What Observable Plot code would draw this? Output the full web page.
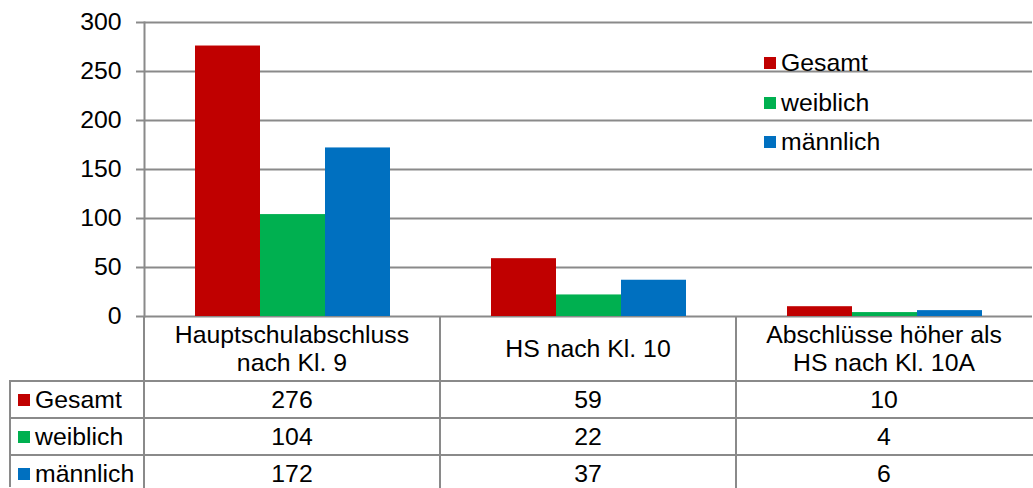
<!DOCTYPE html>
<html><head><meta charset="utf-8">
<script src="https://cdn.jsdelivr.net/npm/d3@7"></script>
<script src="https://cdn.jsdelivr.net/npm/@observablehq/plot@0.6"></script>
<style>
body{margin:0;background:#fff;}
#wrap{position:relative;width:1033px;height:488px;overflow:hidden;font-family:"Liberation Sans",Arial,sans-serif;font-size:24.8px;color:#000;}
#wrap svg{position:absolute;left:0;top:0;}
.hl{position:absolute;height:2px;background:#8a8a8a;}
.vl{position:absolute;width:2px;background:#8a8a8a;}
.cell{position:absolute;display:flex;align-items:center;justify-content:center;text-align:center;line-height:28px;white-space:pre;}
.key{position:absolute;display:flex;align-items:center;white-space:nowrap;}
.sw{display:inline-block;width:12px;height:12px;}
</style></head><body><div id="wrap"></div>
<script>
const categories = ["Hauptschulabschluss\nnach Kl. 9", "HS nach Kl. 10", "Abschlüsse höher als\nHS nach Kl. 10A"];
const series = ["Gesamt", "weiblich", "männlich"];
const gesamt = [276, 59, 10];
const weiblich = [104, 22, 4];
const maennlich = [172, 37, 6];
const colors = ["#C00000", "#00B050", "#0070C0"];
const yTicks = [0, 50, 100, 150, 200, 250, 300];

const valuesBySeries = [gesamt, weiblich, maennlich];
const data = categories.flatMap((c, i) => series.map((s, j) => ({cat: c, series: s, value: valuesBySeries[j][i]})));

const gray = "#8a8a8a";
const plot = Plot.plot({
  width: 1033, height: 318,
  marginLeft: 143, marginRight: 0, marginTop: 22, marginBottom: 2,
  style: {fontFamily: '"Liberation Sans", Arial, sans-serif', fontSize: "24.8px", color: "#000", background: "transparent", overflow: "visible"},
  fx: {domain: categories, padding: 0, axis: null},
  x: {domain: series, paddingInner: 0, paddingOuter: 0.75, axis: null},
  y: {domain: [0, 300], axis: null},
  color: {domain: series, range: colors},
  marks: [
    Plot.gridY(yTicks, {stroke: gray, strokeOpacity: 1, strokeWidth: 2}),
    Plot.barY(data, {fx: "cat", x: "series", y: "value", fill: "series"}),
    Plot.axisY(yTicks, {anchor: "left", facetAnchor: "left", tickSize: 8, tickPadding: 15, stroke: gray, strokeWidth: 2, label: null, tickFormat: d => String(d), fontSize: 24.8}),
    Plot.frame({anchor: "left", facetAnchor: "left", stroke: gray, strokeWidth: 2})
  ]
});
const wrap = document.getElementById("wrap");
wrap.appendChild(plot);

const fxs = plot.scale("fx");
const ys = plot.scale("y");
const y0 = ys.apply(0);
const catRowH = 65, rowH = 37;
const tableLeft = 10;
const bw = fxs.bandwidth;
const lefts = categories.map(c => fxs.apply(c));
const right = 1033;

function el(cls, style, text) {
  const d = document.createElement("div");
  d.className = cls;
  Object.assign(d.style, style);
  if (text != null) d.textContent = text;
  wrap.appendChild(d);
  return d;
}

// category header row
categories.forEach((c, i) => {
  el("cell", {left: lefts[i] + "px", top: y0 + "px", width: bw + "px", height: catRowH + "px"}, c);
});
// data rows
series.forEach((s, j) => {
  const top = y0 + catRowH + j * rowH;
  const k = el("key", {left: (tableLeft + 8) + "px", top: top + "px", height: rowH + "px"});
  const sw = document.createElement("span"); sw.className = "sw"; sw.style.background = colors[j]; sw.style.marginRight = "5px";
  k.appendChild(sw);
  const t = document.createElement("span"); t.textContent = s; k.appendChild(t);
  categories.forEach((c, i) => {
    el("cell", {left: lefts[i] + "px", top: top + "px", width: bw + "px", height: rowH + "px"}, String(valuesBySeries[j][i]));
  });
});
// horizontal lines
for (let j = 0; j < series.length; j++) {
  const top = y0 + catRowH + j * rowH - 1;
  el("hl", {left: tableLeft + "px", top: top + "px", width: (right - tableLeft) + "px"});
}
// vertical lines
el("vl", {left: (tableLeft - 1) + "px", top: (y0 + catRowH - 1) + "px", height: (488 - y0 - catRowH) + "px"});
lefts.forEach((x, i) => {
  el("vl", {left: (x - 1) + "px", top: y0 + "px", height: (488 - y0) + "px"});
});

// legend inside plot
const legTop = 43.8, legStep = 39.3, legLeft = 764;
series.forEach((s, j) => {
  const k = el("key", {left: legLeft + "px", top: (legTop + j * legStep) + "px", height: legStep + "px"});
  const sw = document.createElement("span"); sw.className = "sw"; sw.style.background = colors[j]; sw.style.marginRight = "5px";
  k.appendChild(sw);
  const t = document.createElement("span"); t.textContent = s; k.appendChild(t);
});
</script>
</body></html>
